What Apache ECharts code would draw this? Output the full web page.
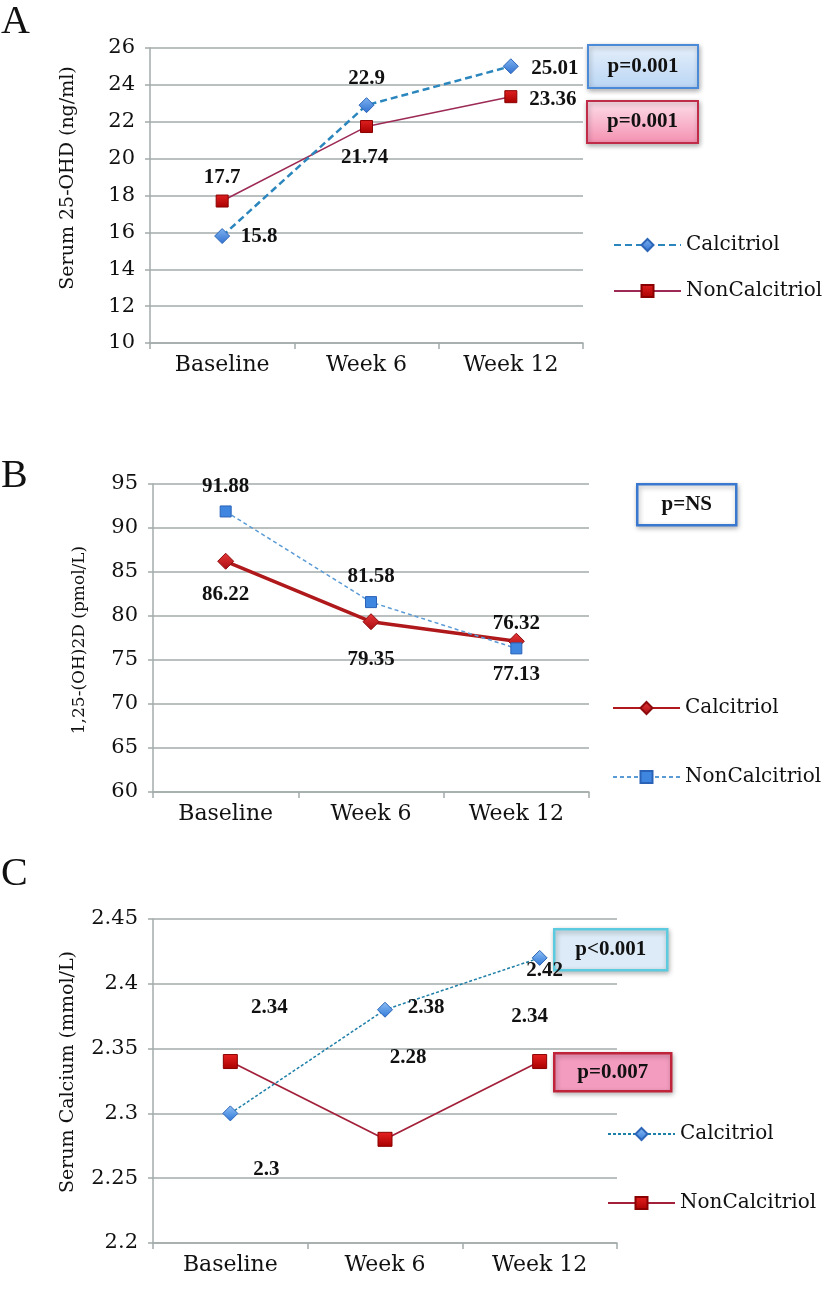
<!DOCTYPE html>
<html>
<head>
<meta charset="utf-8">
<script src="https://cdn.jsdelivr.net/npm/echarts@6/dist/echarts.min.js"></script>
<style>
html,body{margin:0;padding:0;background:#fff;width:825px;height:1302px;overflow:hidden;}
.p{position:absolute;left:0;width:825px;}
</style>
</head>
<body>
<div id="cA" class="p" style="top:0;height:400px"></div>
<div id="cB" class="p" style="top:400px;height:450px"></div>
<div id="cC" class="p" style="top:850px;height:452px"></div>
<script>
// ---------- data ----------
const categories = ['Baseline', 'Week 6', 'Week 12'];
const seriesNames = ['Calcitriol', 'NonCalcitriol'];

// Panel A: Serum 25-OHD (ng/ml)
const aCalcitriol = [15.8, 22.9, 25.01];
const aNonCalcitriol = [17.7, 21.74, 23.36];
const aTitle = 'Serum 25-OHD (ng/ml)';
const aPvalues = ['p=0.001', 'p=0.001'];

// Panel B: 1,25-(OH)2D (pmol/L)
const bCalcitriol = [86.22, 79.35, 77.13];
const bNonCalcitriol = [91.88, 81.58, 76.32];
const bTitle = '1,25-(OH)2D (pmol/L)';
const bPvalues = ['p=NS'];

// Panel C: Serum Calcium (mmol/L)
const cCalcitriol = [2.3, 2.38, 2.42];
const cNonCalcitriol = [2.34, 2.28, 2.34];
const cTitle = 'Serum Calcium (mmol/L)';
const cPvalues = ['p<0.001', 'p=0.007'];

// ---------- styling (label offsets relative to the point) ----------
const aOffCal = [[37, 1], [0, -27], [44, 2]];
const aOffNon = [[0, -23], [-2, 31], [42, 3]];
const bOffCal = [[0, 33], [0, 38], [0, 33]];
const bOffNon = [[0, -25], [0, -26], [0, -25]];
const cOffCal = [[36, 56], [41, -2], [5, 13]];
const cOffNon = [[39, -54], [23, -82], [-10, -45]];

const SERIF = '"DejaVu Serif", serif';
const BOLD = '"Liberation Serif", "Times New Roman", serif';
const GRID = '#a3abab';

function mkData(vals, offs) {
  return vals.map((v, i) => ({
    value: v,
    label: { position: 'inside', offset: offs[i] }
  }));
}

function baseAxes(min, max, interval) {
  return {
    xAxis: {
      type: 'category', data: categories, boundaryGap: true,
      axisLine: { lineStyle: { color: GRID, width: 1.5 } },
      axisTick: { show: true, alignWithLabel: false, length: 6, lineStyle: { color: GRID, width: 1.5 } },
      axisLabel: { color: '#111', fontFamily: SERIF, fontSize: 22, margin: 11 },
      splitLine: { show: false }
    },
    yAxis: {
      type: 'value', min: min, max: max, interval: interval,
      axisLine: { show: true, lineStyle: { color: GRID, width: 1.5 } },
      axisTick: { show: true, length: 5, lineStyle: { color: GRID, width: 1.5 } },
      axisLabel: { color: '#111', fontFamily: SERIF, fontSize: 21, margin: 15 },
      splitLine: { lineStyle: { color: GRID, width: 1.6 } }
    }
  };
}

function labelStyle() {
  return { show: true, color: '#111', fontFamily: BOLD, fontWeight: 'bold', fontSize: 21 };
}

function pBox(x, y, w, h, text, fill, stroke, lw) {
  return {
    type: 'group', left: x, top: y, children: [
      { type: 'rect', shape: { x: 0, y: 0, width: w, height: h },
        style: { fill: fill, stroke: stroke, lineWidth: lw, shadowBlur: 5, shadowOffsetY: 2, shadowOffsetX: 1, shadowColor: 'rgba(0,0,0,0.3)' } },
      { type: 'text', x: w / 2, y: h / 2,
        style: { text: text, fill: '#111', font: 'bold 21px ' + BOLD, align: 'center', verticalAlign: 'middle' } }
    ]
  };
}

function letter(t, y) {
  return { type: 'text', left: 1, top: y, style: { text: t, fill: '#111', font: '40px "Liberation Serif", serif' } };
}

function yTitle(t, x, y, size) {
  return { type: 'text', x: x, y: y, rotation: Math.PI / 2,
    style: { text: t, fill: '#111', font: size + 'px ' + SERIF, align: 'center', verticalAlign: 'middle' } };
}

function legend(left, top, gap) {
  return {
    orient: 'vertical', left: left, top: top, itemWidth: 67, itemHeight: 15, itemGap: gap,
    padding: 0, selectedMode: false, data: seriesNames,
    textStyle: { color: '#111', fontFamily: SERIF, fontSize: 20, lineHeight: 20 }
  };
}

function grad(c1, c2) {
  return new echarts.graphic.LinearGradient(0, 0, 0, 1, [{ offset: 0, color: c1 }, { offset: 1, color: c2 }]);
}

// ---------- Panel A ----------
const chA = echarts.init(document.getElementById('cA'), null, { renderer: 'canvas' });
const axA = baseAxes(10, 26, 2);
chA.setOption({
  animation: false,
  grid: { left: 150, top: 48, width: 433, height: 295 },
  xAxis: axA.xAxis, yAxis: axA.yAxis,
  legend: legend(613, 235, 26),
  series: [
    { name: seriesNames[0], type: 'line', data: mkData(aCalcitriol, aOffCal),
      symbol: 'diamond', symbolSize: [15, 15],
      lineStyle: { color: '#2a86bd', width: 2.5, type: [7, 4] },
      itemStyle: { color: grad('#7fb4f0', '#2f6fd0'), borderColor: '#2d66b8', borderWidth: 1 },
      label: labelStyle(), z: 3 },
    { name: seriesNames[1], type: 'line', data: mkData(aNonCalcitriol, aOffNon),
      symbol: 'rect', symbolSize: 12,
      lineStyle: { color: '#9c2a55', width: 1.5 },
      itemStyle: { color: grad('#e02020', '#a80000'), borderColor: '#8a0000', borderWidth: 1 },
      label: labelStyle(), z: 2 }
  ],
  graphic: [
    letter('A', 2),
    yTitle(aTitle, 68, 178, 19),
    pBox(587, 44, 110, 43, aPvalues[0], grad('#e6f0fb', '#b9d5f4'), '#4a8ad6', 2),
    pBox(586, 100, 111, 42, aPvalues[1], grad('#fde0ea', '#f48fb0'), '#c02c48', 2)
  ]
});

// ---------- Panel B ----------
const chB = echarts.init(document.getElementById('cB'), null, { renderer: 'canvas' });
const axB = baseAxes(60, 95, 5);
chB.setOption({
  animation: false,
  grid: { left: 153, top: 84, width: 436, height: 308 },
  xAxis: axB.xAxis, yAxis: axB.yAxis,
  legend: legend(612, 298, 49),
  series: [
    { name: seriesNames[0], type: 'line', data: mkData(bCalcitriol, bOffCal),
      symbol: 'diamond', symbolSize: [16, 16],
      lineStyle: { color: '#b0191c', width: 3.5 },
      itemStyle: { color: grad('#e8383a', '#a80c10'), borderColor: '#8c0a0c', borderWidth: 1 },
      label: labelStyle(), z: 2 },
    { name: seriesNames[1], type: 'line', data: mkData(bNonCalcitriol, bOffNon),
      symbol: 'rect', symbolSize: 11,
      lineStyle: { color: '#5b9bd5', width: 1.5, type: [4, 3] },
      itemStyle: { color: '#3e86e0', borderColor: '#2a62b8', borderWidth: 1 },
      label: labelStyle(), z: 3 }
  ],
  graphic: [
    letter('B', 56),
    yTitle(bTitle, 80, 240, 17),
    pBox(636, 83, 99, 41, bPvalues[0], '#ffffff', '#3a78d0', 2.5)
  ]
});

// ---------- Panel C ----------
const chC = echarts.init(document.getElementById('cC'), null, { renderer: 'canvas' });
const axC = baseAxes(2.2, 2.45, 0.05);
chC.setOption({
  animation: false,
  grid: { left: 153, top: 69, width: 464, height: 324 },
  xAxis: axC.xAxis, yAxis: axC.yAxis,
  legend: legend(607, 274, 49),
  series: [
    { name: seriesNames[0], type: 'line', data: mkData(cCalcitriol, cOffCal),
      symbol: 'diamond', symbolSize: [15, 15],
      lineStyle: { color: '#1e7fa8', width: 1.5, type: [3, 2] },
      itemStyle: { color: grad('#8fc0f5', '#2f78d8'), borderColor: '#2d66b8', borderWidth: 1 },
      label: labelStyle(), z: 3 },
    { name: seriesNames[1], type: 'line', data: mkData(cNonCalcitriol, cOffNon),
      symbol: 'rect', symbolSize: 14,
      lineStyle: { color: '#a3203a', width: 1.8 },
      itemStyle: { color: grad('#e82222', '#a80000'), borderColor: '#8a0000', borderWidth: 1 },
      label: labelStyle(), z: 2 }
  ],
  graphic: [
    letter('C', 4),
    yTitle(cTitle, 68, 222, 19),
    pBox(553, 78, 113, 41, cPvalues[0], '#dcebf7', '#5ccbe0', 2.5),
    pBox(553, 202, 117, 38, cPvalues[1], '#f49cbf', '#c0243a', 2.5)
  ]
});
</script>
</body>
</html>
